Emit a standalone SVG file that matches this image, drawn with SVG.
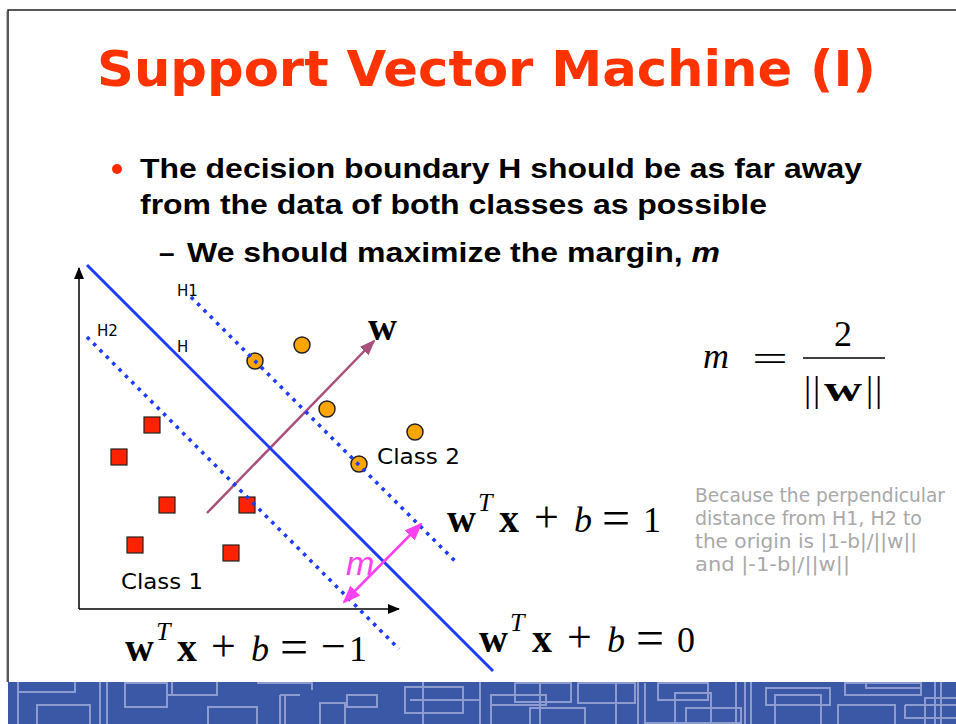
<svg xmlns="http://www.w3.org/2000/svg" width="956" height="724" viewBox="0 0 956 724">
<style>
.title{font-family:"DejaVu Sans",Verdana,sans-serif;font-weight:bold;font-size:50px;fill:#ff3300}
.bul{font-family:"Liberation Sans",Arial,sans-serif;font-weight:bold;font-size:28px;fill:#000}
.note{font-family:"DejaVu Sans",Verdana,sans-serif;font-size:19px;fill:#a8a8a8}
.lbl{font-family:"DejaVu Sans",Verdana,sans-serif;font-size:21px;fill:#000}
.hl{font-family:"DejaVu Sans",Verdana,sans-serif;font-size:15px;fill:#000}
.math{font-family:"Liberation Serif","Times New Roman",serif;font-size:36px;fill:#000}
.bf{font-weight:bold;font-size:40px}
.it{font-style:italic}
.op{font-size:44px}
.eq{font-size:50px}
.sup{font-size:26px;font-style:italic}
.circ{fill:#ffa500;stroke:#222;stroke-width:1.5}
.sq{fill:#ff2200;stroke:#222;stroke-width:1.2}
.hline{stroke:#1e3cff;stroke-width:3;fill:none}
.dot{stroke:#1e3cff;stroke-width:3.6;stroke-dasharray:3.5 5.5;fill:none}
.pat{fill:none;stroke:#8d9bd0;stroke-width:2}
</style>
<defs>
<marker id="ah" markerUnits="userSpaceOnUse" markerWidth="12" markerHeight="10" refX="11" refY="5" orient="auto"><path d="M0,0 L12,5 L0,10 z" fill="#000"/></marker>
<marker id="ap" markerUnits="userSpaceOnUse" markerWidth="16" markerHeight="12" refX="14" refY="6" orient="auto"><path d="M0,0 L16,6 L0,12 z" fill="#a8507a"/></marker>
<marker id="am" markerUnits="userSpaceOnUse" markerWidth="18" markerHeight="14" refX="16" refY="7" orient="auto-start-reverse"><path d="M0,0 L18,7 L0,14 z" fill="#ff40f0"/></marker>
</defs>
<rect x="0" y="0" width="956" height="724" fill="#fff"/>
<!-- slide border -->
<line x1="6.5" y1="11" x2="6.5" y2="682" stroke="#bbb" stroke-width="1"/>
<path d="M8,682 L8,10 L956,10" fill="none" stroke="#222" stroke-width="1.5"/>
<!-- bottom band -->
<g id="band">
<rect x="8" y="682" width="948" height="42" fill="#3b58a6"/>
<path class="pat" d="M18,682V724 M18,692H75V682 M37,724V705H90V724 M100,682V724 M107,682V724 M125,683H167V707H125z M167,682V695H217V682 M172,682V695 M208,724V707H257V724 M257,683H312V690 M280,695V724 M285,695V724 M280,695H300 M320,724V703H345V724 M347,695H377V707H347z M405,687H463V713H405z M423,682V724 M410,700H480 M480,682V724 M491,724V695H546V705H491 M515,683H571V702H515z M540,682V724 M530,724V708H585V724 M578,683H635V703H578z M616,682V724 M638,682V724 M645,683V723H741 M658,683H708V700H658z M675,724V693H711V724 M686,724V708H741V724 M736,682V724 M745,682V724 M751,682V724 M766,688H830V705H766z M775,724V695H821V724 M845,683H921V695H845z M838,724V705H895V724 M866,683V688H921 M905,705H956 M905,705V718H956 M935,682V724 M941,682V724 M925,724V698H956"/>
</g>
<!-- title and bullets -->
<text class="title" x="97" y="86" textLength="779" lengthAdjust="spacingAndGlyphs">Support Vector Machine (I)</text>
<circle cx="117" cy="169" r="5" fill="#ff2a00"/>
<text class="bul" x="140" y="178" textLength="722" lengthAdjust="spacingAndGlyphs">The decision boundary H should be as far away</text>
<text class="bul" x="140" y="214" textLength="627" lengthAdjust="spacingAndGlyphs">from the data of both classes as possible</text>
<text class="bul" x="159" y="262" font-size="29">–</text>
<text class="bul" x="187" y="262" font-size="29" textLength="533" lengthAdjust="spacingAndGlyphs">We should maximize the margin, <tspan font-style="italic">m</tspan></text>
<!-- data points -->
<g id="class2">
<circle class="circ" cx="255" cy="361" r="8"/>
<circle class="circ" cx="302" cy="345" r="8"/>
<circle class="circ" cx="327" cy="409" r="8"/>
<circle class="circ" cx="415" cy="432" r="8"/>
<circle class="circ" cx="359" cy="464" r="8"/>
</g>
<g id="class1">
<rect class="sq" x="144" y="417" width="16" height="16"/>
<rect class="sq" x="111" y="449" width="16" height="16"/>
<rect class="sq" x="159" y="497" width="16" height="16"/>
<rect class="sq" x="239" y="497" width="16" height="16"/>
<rect class="sq" x="127" y="537" width="16" height="16"/>
<rect class="sq" x="223" y="545" width="16" height="16"/>
</g>
<!-- connectors: axes, hyperplanes, arrows -->
<g id="connectors">
<line x1="79" y1="609" x2="79" y2="268" stroke="#000" stroke-width="1.5" marker-end="url(#ah)"/>
<line x1="79" y1="609" x2="399" y2="609" stroke="#000" stroke-width="1.5" marker-end="url(#ah)"/>
<line x1="207" y1="513" x2="374" y2="341" stroke="#a8507a" stroke-width="2.5" marker-end="url(#ap)"/>
<line class="hline" x1="87" y1="265" x2="493" y2="671"/>
<line class="dot" x1="191" y1="297" x2="456" y2="562"/>
<line class="dot" x1="87" y1="337" x2="399" y2="649"/>
<line x1="344" y1="602" x2="421" y2="524" stroke="#ff40f0" stroke-width="2.5" marker-start="url(#am)" marker-end="url(#am)"/>
</g>
<!-- labels -->
<g id="labels">
<text class="hl" x="177" y="296" textLength="21" lengthAdjust="spacingAndGlyphs">H1</text>
<text class="hl" x="97" y="336" textLength="21" lengthAdjust="spacingAndGlyphs">H2</text>
<text class="hl" x="177" y="352">H</text>
<text class="lbl" x="377" y="464" textLength="83" lengthAdjust="spacingAndGlyphs">Class 2</text>
<text class="lbl" x="121" y="589" textLength="82" lengthAdjust="spacingAndGlyphs">Class 1</text>
<text x="346" y="575" font-family="Liberation Sans,Arial,sans-serif" font-style="italic" font-size="34" fill="#ff40f0">m</text>
<text class="math bf" x="368" y="340">w</text>
</g>
<!-- equations -->
<g id="eq1">
<text class="math" y="532"><tspan class="bf" x="447">w</tspan><tspan class="sup" x="478" y="511">T</tspan><tspan class="bf" x="499" y="532">x</tspan><tspan class="op" x="534">+</tspan><tspan class="it" x="574">b</tspan><tspan class="eq" x="602" y="535">=</tspan><tspan x="643" y="532">1</tspan></text>
</g>
<g id="eq0">
<text class="math" y="652"><tspan class="bf" x="479">w</tspan><tspan class="sup" x="510" y="631">T</tspan><tspan class="bf" x="532" y="652">x</tspan><tspan class="op" x="567">+</tspan><tspan class="it" x="607">b</tspan><tspan class="eq" x="636" y="655">=</tspan><tspan x="677" y="652">0</tspan></text>
</g>
<g id="eqm1">
<text class="math" y="661"><tspan class="bf" x="125">w</tspan><tspan class="sup" x="156" y="640">T</tspan><tspan class="bf" x="177" y="661">x</tspan><tspan class="op" x="211">+</tspan><tspan class="it" x="251">b</tspan><tspan class="eq" x="280" y="664">=</tspan><tspan class="op" x="321" y="661">−</tspan><tspan x="349">1</tspan></text>
</g>
<g id="margin">
<text class="math it" x="703" y="368" font-size="44">m</text>
<text class="math" x="752" y="371" font-size="50" textLength="36" lengthAdjust="spacingAndGlyphs">=</text>
<line x1="803" y1="358" x2="885" y2="358" stroke="#000" stroke-width="1.5"/>
<text class="math" x="834" y="346">2</text>
<text class="math" x="804" y="401">|</text>
<text class="math" x="813" y="401">|</text>
<text class="math" x="824" y="401" font-weight="bold" font-size="40" textLength="38" lengthAdjust="spacingAndGlyphs">w</text>
<text class="math" x="866" y="401">|</text>
<text class="math" x="875" y="401">|</text>
</g>
<g id="note">
<text class="note" x="695" y="502" textLength="250" lengthAdjust="spacingAndGlyphs">Because the perpendicular</text>
<text class="note" x="695" y="525" textLength="227" lengthAdjust="spacingAndGlyphs">distance from H1, H2 to</text>
<text class="note" x="695" y="548" textLength="222" lengthAdjust="spacingAndGlyphs">the origin is |1-b|/||w||</text>
<text class="note" x="695" y="571" textLength="155" lengthAdjust="spacingAndGlyphs">and |-1-b|/||w||</text>
</g>
</svg>
